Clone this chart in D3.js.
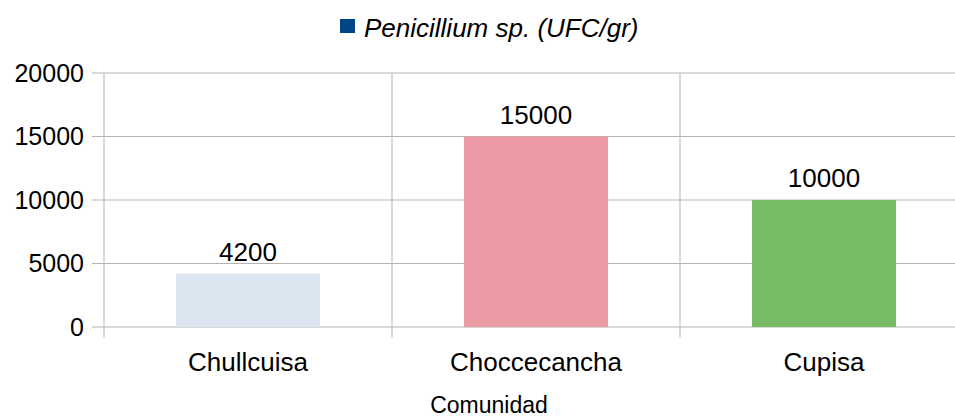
<!DOCTYPE html>
<html>
<head>
<meta charset="utf-8">
<script src="https://cdn.jsdelivr.net/npm/d3@7"></script>
<style>
    body { margin: 0; background: #fff; }
    svg { display: block; font-family: "Liberation Sans", Arial, sans-serif; }
</style>
</head>
<body>
<div id="chart"></div>
<script>
// chart data
var categories = ['Chullcuisa', 'Choccecancha', 'Cupisa'];
var values = [4200, 15000, 10000];
var barColors = ['#dce6f0', '#ec9aa4', '#77bb66'];
var yTicks = [0, 5000, 10000, 15000, 20000];
var seriesName = 'Penicillium sp. (UFC/gr)';
var axisTitle = 'Comunidad';

var width = 955, height = 416;
var margin = { left: 104, right: -13, top: 73, bottom: 89 };

var svg = d3.select('#chart').append('svg')
    .attr('width', width)
    .attr('height', height);

var x = d3.scaleBand()
    .domain(categories)
    .range([margin.left, width - margin.right])
    .paddingInner(0.5)
    .paddingOuter(0.25);

var y = d3.scaleLinear()
    .domain([0, 20000])
    .range([height - margin.bottom, margin.top]);

var grid = '#b3b3b3';

// horizontal grid lines
svg.append('g')
    .selectAll('line')
    .data(yTicks)
    .enter().append('line')
    .attr('x1', margin.left - 12)
    .attr('x2', width - margin.right)
    .attr('y1', d => y(d))
    .attr('y2', d => y(d))
    .attr('stroke', grid)
    .attr('stroke-width', 1);

// vertical separators between categories (and axis line)
var step = x.step();
var seps = d3.range(categories.length).map(i => margin.left + i * step);
svg.append('g')
    .selectAll('line')
    .data(seps)
    .enter().append('line')
    .attr('x1', d => d)
    .attr('x2', d => d)
    .attr('y1', margin.top)
    .attr('y2', y(0) + 11)
    .attr('stroke', grid)
    .attr('stroke-width', 1);

// y tick labels
svg.append('g')
    .selectAll('text')
    .data(yTicks)
    .enter().append('text')
    .attr('x', 84)
    .attr('y', d => y(d))
    .attr('dy', '0.35em')
    .attr('text-anchor', 'end')
    .attr('font-size', 25)
    .attr('fill', '#000')
    .text(d => d);

// bars
svg.append('g')
    .selectAll('rect')
    .data(values)
    .enter().append('rect')
    .attr('x', (d, i) => x(categories[i]))
    .attr('y', d => y(d))
    .attr('width', x.bandwidth())
    .attr('height', d => y(0) - y(d))
    .attr('fill', (d, i) => barColors[i]);

// value labels
svg.append('g')
    .selectAll('text')
    .data(values)
    .enter().append('text')
    .attr('x', (d, i) => x(categories[i]) + x.bandwidth() / 2)
    .attr('y', d => y(d) - 13)
    .attr('text-anchor', 'middle')
    .attr('font-size', 26)
    .attr('fill', '#000')
    .text(d => d);

// category labels
svg.append('g')
    .selectAll('text')
    .data(categories)
    .enter().append('text')
    .attr('x', d => x(d) + x.bandwidth() / 2)
    .attr('y', 371)
    .attr('text-anchor', 'middle')
    .attr('font-size', 26)
    .attr('fill', '#000')
    .text(d => d);

// axis title
svg.append('text')
    .attr('x', 489)
    .attr('y', 413)
    .attr('text-anchor', 'middle')
    .attr('font-size', 23)
    .attr('fill', '#000')
    .text(axisTitle);

// legend
var legend = svg.append('g');
legend.append('rect')
    .attr('x', 340)
    .attr('y', 19)
    .attr('width', 15)
    .attr('height', 14)
    .attr('fill', '#004586');
legend.append('text')
    .attr('x', 364)
    .attr('y', 37)
    .attr('font-size', 26)
    .attr('font-style', 'italic')
    .attr('fill', '#000')
    .text(seriesName);
</script>
</body>
</html>
